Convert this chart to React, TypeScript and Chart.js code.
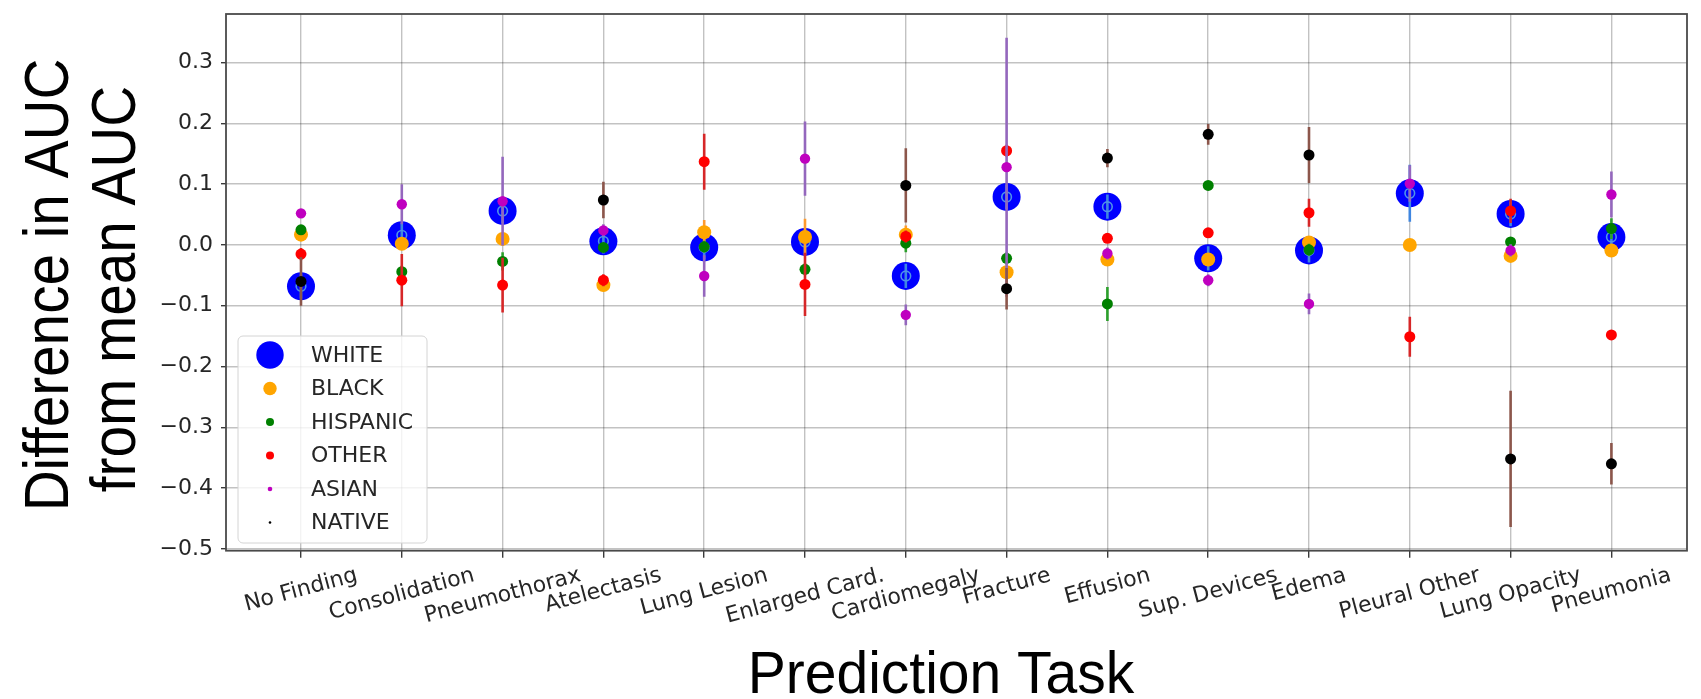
import { useEffect, useRef } from 'react';
import { Chart, registerables } from 'chart.js';

Chart.register(...registerables);

// ---------------- data ----------------
const categories = [
  'No Finding', 'Consolidation', 'Pneumothorax', 'Atelectasis', 'Lung Lesion',
  'Enlarged Card.', 'Cardiomegaly', 'Fracture', 'Effusion', 'Sup. Devices',
  'Edema', 'Pleural Other', 'Lung Opacity', 'Pneumonia',
];

const yTickValues = [-0.5, -0.4, -0.3, -0.2, -0.1, 0.0, 0.1, 0.2, 0.3];
const yTickLabels = ['−0.5', '−0.4', '−0.3', '−0.2', '−0.1', '0.0', '0.1', '0.2', '0.3'];

const seriesNames = ['WHITE', 'BLACK', 'HISPANIC', 'OTHER', 'ASIAN', 'NATIVE'];

const whiteValues = [-0.068, 0.016, 0.056, 0.006, -0.004, 0.005, -0.051, 0.079, 0.063, -0.022, -0.009, 0.085, 0.051, 0.013];
const whiteErrors = [0.02, 0.02, 0.02, 0.02, 0.02, 0.02, 0.02, 0.02, 0.02, 0.02, 0.02, 0.047, 0.02, 0.02];

const blackValues = [0.017, 0.002, 0.010, -0.066, 0.021, 0.013, 0.017, -0.045, -0.024, -0.024, 0.004, 0.000, -0.018, -0.009];
const blackErrors = [0.01, 0.01, 0.01, 0.01, 0.02, 0.03, 0.015, 0.01, 0.01, 0.01, 0.01, 0.005, 0.01, 0.01];

const hispanicValues = [0.025, -0.044, -0.027, -0.004, -0.003, -0.040, 0.003, -0.022, -0.097, 0.098, -0.008, null, 0.005, 0.027];
const hispanicErrors = [0.005, 0.01, 0.015, 0.005, 0.01, 0.01, 0.015, 0.01, 0.028, 0.005, 0.01, 0, 0.005, 0.017];

const otherValues = [-0.015, -0.058, -0.066, -0.058, 0.137, -0.065, 0.014, 0.155, 0.011, 0.020, 0.053, -0.151, 0.056, -0.148];
const otherErrors = [0.01, 0.043, 0.045, 0.01, 0.046, 0.052, 0.01, 0.01, 0.005, 0.005, 0.023, 0.033, 0.02, 0.008];

const asianValues = [0.052, 0.067, 0.072, 0.024, -0.051, 0.142, -0.115, 0.128, -0.014, -0.058, -0.097, 0.101, -0.009, 0.083];
const asianErrors = [0.005, 0.033, 0.073, 0.01, 0.034, 0.061, 0.017, 0.213, 0.01, 0.01, 0.017, 0.03, 0.01, 0.038];

const nativeValues = [-0.060, null, null, 0.074, null, null, 0.098, -0.072, 0.143, 0.182, 0.148, null, -0.352, -0.360];
const nativeErrors = [0.04, 0, 0, 0.03, 0, 0, 0.061, 0.034, 0.015, 0.017, 0.046, 0, 0.112, 0.034];

// ---------------- styles ----------------
const markerColors = ['#0000ff', '#ffa500', '#008000', '#ff0000', '#bf00bf', '#000000'];
const errorColors = ['#3f86e0', '#ff9a2e', '#2ca02c', '#d62728', '#9467bd', '#8c564b'];
const markerRadii = [14, 7, 5.5, 5.5, 5.2, 5.5];
const legendRadii = [13.7, 6.7, 4, 4, 2.3, 1.3];
const TICK_FONT = '22px "DejaVu Sans"';

const toPoints = (vals: (number | null)[]) => vals.map((v, i) => ({ x: i, y: v }));

function drawErrors(chart: any, index: number, layer: string) {
  const ds: any = chart.data.datasets[index];
  if (!ds.errors || ds.errorLayer !== layer) return;
  const meta = chart.getDatasetMeta(index);
  const yScale = chart.scales.y;
  const area = chart.chartArea;
  const ctx = chart.ctx;
  ctx.save();
  ctx.beginPath();
  ctx.rect(area.left, area.top, area.right - area.left, area.bottom - area.top);
  ctx.clip();
  ctx.strokeStyle = ds.errorColor;
  ctx.lineWidth = 2.6;
  ds.data.forEach((p: any, i: number) => {
    const e = ds.errors[i];
    if (p.y === null || p.y === undefined || !e) return;
    const el = meta.data[i];
    if (!el) return;
    const y1 = yScale.getPixelForValue(p.y + e);
    const y2 = yScale.getPixelForValue(p.y - e);
    ctx.beginPath();
    ctx.moveTo(el.x, y1);
    ctx.lineTo(el.x, y2);
    ctx.stroke();
  });
  ctx.restore();
}

const errorBarPlugin = {
  id: 'errorBars',
  beforeDatasetDraw(chart: any, args: any) { drawErrors(chart, args.index, 'below'); },
  afterDatasetDraw(chart: any, args: any) { drawErrors(chart, args.index, 'above'); },
};

const decorPlugin = {
  id: 'decor',
  afterDraw(chart: any) {
    const ctx = chart.ctx;
    const area = chart.chartArea;
    const xScale = chart.scales.x;

    // frame
    ctx.save();
    ctx.strokeStyle = '#4a4a4a';
    ctx.lineWidth = 1.8;
    ctx.strokeRect(area.left, area.top, area.right - area.left, area.bottom - area.top);
    ctx.restore();

    // legend
    ctx.save();
    const lx = area.left + 12;
    const ly = area.top + 322;
    const lw = 189;
    const lh = 207;
    ctx.beginPath();
    (ctx as any).roundRect(lx, ly, lw, lh, 5);
    ctx.fillStyle = 'rgba(255,255,255,0.8)';
    ctx.fill();
    ctx.strokeStyle = '#d4d4d4';
    ctx.lineWidth = 1;
    ctx.stroke();
    ctx.font = TICK_FONT;
    ctx.textBaseline = 'middle';
    ctx.textAlign = 'left';
    seriesNames.forEach((name, i) => {
      const cy = ly + 19 + i * 33.5;
      ctx.beginPath();
      ctx.arc(lx + 32, cy, legendRadii[i], 0, Math.PI * 2);
      ctx.fillStyle = markerColors[i];
      ctx.fill();
      ctx.fillStyle = '#262626';
      ctx.fillText(name, lx + 73, cy + 1);
    });
    ctx.restore();

    // x tick labels (rotated 15°, centered on tick)
    ctx.save();
    ctx.font = TICK_FONT;
    ctx.fillStyle = '#262626';
    ctx.textAlign = 'center';
    ctx.textBaseline = 'middle';
    const th = (15 * Math.PI) / 180;
    const h = 22 * 1.17;
    categories.forEach((label, i) => {
      const x = xScale.getPixelForValue(i);
      const L = ctx.measureText(label).width;
      const cy = area.bottom + 12 + (L * Math.sin(th) + h * Math.cos(th)) / 2;
      ctx.save();
      ctx.translate(x, cy);
      ctx.rotate(-th);
      ctx.fillText(label, 0, 0);
      ctx.restore();
    });
    ctx.restore();

    // axis titles
    ctx.save();
    ctx.fillStyle = '#000000';
    ctx.textAlign = 'center';
    ctx.textBaseline = 'alphabetic';
    ctx.font = '60px "Liberation Sans", Arial, sans-serif';
    ctx.save();
    ctx.translate(941, 693);
    ctx.scale(0.95, 1);
    ctx.fillText('Prediction Task', 0, 0);
    ctx.restore();

    ctx.font = '63px "Liberation Sans", Arial, sans-serif';
    ctx.save();
    ctx.translate(68, 285);
    ctx.rotate(-Math.PI / 2);
    ctx.scale(0.9, 1);
    ctx.fillText('Difference in AUC', 0, 0);
    ctx.restore();
    ctx.save();
    ctx.translate(135, 289);
    ctx.rotate(-Math.PI / 2);
    ctx.scale(0.9, 1);
    ctx.fillText('from mean AUC', 0, 0);
    ctx.restore();
    ctx.restore();
  },
};

export default function App() {
  const canvasRef = useRef<HTMLCanvasElement | null>(null);

  useEffect(() => {
    if (!canvasRef.current) return;
    const valueSets = [whiteValues, blackValues, hispanicValues, otherValues, asianValues, nativeValues];
    const errorSets = [whiteErrors, blackErrors, hispanicErrors, otherErrors, asianErrors, nativeErrors];

    const datasets: any[] = [];
    valueSets.forEach((vals, s) => {
      datasets.push({
        label: seriesNames[s],
        data: toPoints(vals),
        backgroundColor: markerColors[s],
        borderColor: markerColors[s],
        borderWidth: 0,
        pointRadius: markerRadii[s],
        pointHoverRadius: markerRadii[s],
        errors: errorSets[s],
        errorColor: errorColors[s],
        errorLayer: s === 0 ? 'above' : 'below',
        order: s === 0 ? 10 : 8 - s,
      });
      if (s === 0) {
        datasets.push({
          label: 'WHITE ring',
          data: toPoints(vals),
          backgroundColor: 'rgba(0,0,0,0)',
          borderColor: '#4f93e8',
          borderWidth: 1.6,
          pointRadius: 4.8,
          pointHoverRadius: 4.8,
          order: 9,
        });
      }
    });

    const gridColor = 'rgba(0,0,0,0.24)';
    const chart = new Chart(canvasRef.current, {
      type: 'scatter',
      data: { datasets },
      options: {
        animation: false,
        responsive: false,
        events: [],
        layout: { padding: { top: 7.3, right: 14, left: 0, bottom: 0 } },
        plugins: { legend: { display: false }, tooltip: { enabled: false } },
        scales: {
          x: {
            type: 'linear',
            min: -0.744,
            max: 13.75,
            afterBuildTicks: (s: any) => { s.ticks = categories.map((_, i) => ({ value: i })); },
            afterFit: (s: any) => { s.height = 148.3; s.paddingLeft = 0; s.paddingRight = 0; },
            ticks: { display: false },
            grid: { color: gridColor, lineWidth: 1.4, tickColor: '#3a3a3a', tickLength: 7, tickWidth: 1.4 },
            border: { display: false },
          },
          y: {
            type: 'linear',
            min: -0.503,
            max: 0.38,
            afterBuildTicks: (s: any) => { s.ticks = yTickValues.map((v) => ({ value: v })); },
            afterFit: (s: any) => { s.width = 226; s.paddingTop = 0; s.paddingBottom = 0; },
            ticks: {
              font: { family: 'DejaVu Sans', size: 22 },
              color: '#262626',
              padding: 8,
              callback: (value: any) => {
                const idx = yTickValues.findIndex((t) => Math.abs(t - Number(value)) < 1e-9);
                return idx >= 0 ? yTickLabels[idx] : '';
              },
            },
            grid: { color: gridColor, lineWidth: 1.4, tickColor: '#3a3a3a', tickLength: 5, tickWidth: 1.4 },
            border: { display: false },
          },
        },
      } as any,
      plugins: [errorBarPlugin, decorPlugin],
    });
    return () => chart.destroy();
  }, []);

  return (
    <div style={{ position: 'fixed', left: 0, top: 0, width: 1701, height: 699, background: '#ffffff' }}>
      <canvas ref={canvasRef} width={1701} height={699} style={{ display: 'block' }} />
    </div>
  );
}
